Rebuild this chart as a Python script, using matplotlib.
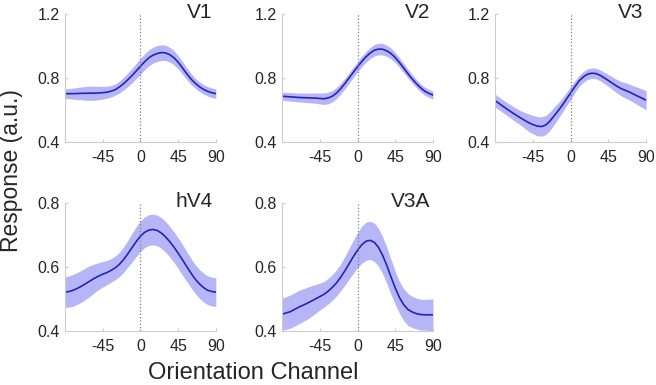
import numpy as np
import matplotlib
matplotlib.use('Agg')
import matplotlib.pyplot as plt

plt.rcParams['font.family'] = ['Liberation Sans', 'DejaVu Sans']

# orientation channels (deg)
channels = [-90, -85, -80, -75, -70, -65, -60, -55, -50, -45, -40, -35, -30,
            -25, -20, -15, -10, -5, 0, 5, 10, 15, 20, 25, 30, 35, 40, 45,
            50, 55, 60, 65, 70, 75, 80, 85, 90]

# mean response per area
v1_mean = [0.703, 0.703, 0.703, 0.704, 0.705, 0.705, 0.706, 0.706, 0.707, 0.709,
           0.712, 0.718, 0.728, 0.745, 0.766, 0.790, 0.816, 0.845, 0.874, 0.902,
           0.927, 0.944, 0.954, 0.960, 0.958, 0.947, 0.928, 0.900, 0.866, 0.830,
           0.797, 0.770, 0.748, 0.731, 0.718, 0.709, 0.703]
v2_mean = [0.687, 0.685, 0.683, 0.681, 0.679, 0.678, 0.677, 0.676, 0.675, 0.673,
           0.671, 0.676, 0.687, 0.707, 0.735, 0.767, 0.802, 0.837, 0.871, 0.904,
           0.933, 0.957, 0.975, 0.982, 0.981, 0.971, 0.954, 0.929, 0.898, 0.864,
           0.829, 0.797, 0.767, 0.741, 0.719, 0.705, 0.694]
v3_mean = [0.658, 0.640, 0.621, 0.603, 0.585, 0.568, 0.552, 0.536, 0.521, 0.509,
           0.500, 0.497, 0.506, 0.530, 0.563, 0.596, 0.631, 0.670, 0.708, 0.747,
           0.783, 0.808, 0.825, 0.831, 0.829, 0.818, 0.802, 0.785, 0.767, 0.750,
           0.735, 0.724, 0.713, 0.700, 0.687, 0.675, 0.662]
hv4_mean = [0.522, 0.524, 0.528, 0.534, 0.541, 0.549, 0.557, 0.565, 0.572, 0.578,
            0.583, 0.590, 0.598, 0.609, 0.624, 0.642, 0.661, 0.680, 0.697, 0.709,
            0.716, 0.718, 0.715, 0.707, 0.695, 0.680, 0.663, 0.644, 0.624, 0.603,
            0.583, 0.564, 0.549, 0.537, 0.528, 0.524, 0.522]
v3a_mean = [0.453, 0.457, 0.461, 0.468, 0.475, 0.481, 0.487, 0.494, 0.501, 0.508,
            0.515, 0.525, 0.537, 0.551, 0.569, 0.589, 0.611, 0.633, 0.653, 0.670,
            0.681, 0.684, 0.678, 0.662, 0.637, 0.605, 0.569, 0.535, 0.505, 0.483,
            0.468, 0.460, 0.455, 0.452, 0.451, 0.451, 0.451]

# error band half-widths
v1_err = [0.030, 0.032, 0.035, 0.038, 0.040, 0.043, 0.045, 0.044, 0.042, 0.040,
          0.038, 0.036, 0.035, 0.037, 0.040, 0.043, 0.045, 0.048, 0.050, 0.050,
          0.050, 0.050, 0.050, 0.049, 0.048, 0.046, 0.045, 0.042, 0.040, 0.037,
          0.035, 0.032, 0.030, 0.030, 0.030, 0.030, 0.030]
v2_err = [0.025, 0.026, 0.027, 0.027, 0.028, 0.029, 0.030, 0.031, 0.032, 0.034,
          0.036, 0.037, 0.036, 0.035, 0.034, 0.033, 0.032, 0.032, 0.032, 0.033,
          0.034, 0.035, 0.036, 0.036, 0.036, 0.035, 0.034, 0.032, 0.030, 0.029,
          0.028, 0.027, 0.026, 0.025, 0.025, 0.025, 0.025]
v3_err = [0.040, 0.040, 0.040, 0.041, 0.042, 0.043, 0.045, 0.050, 0.055, 0.058,
          0.060, 0.061, 0.060, 0.058, 0.055, 0.050, 0.045, 0.042, 0.040, 0.037,
          0.035, 0.034, 0.033, 0.033, 0.033, 0.034, 0.035, 0.037, 0.040, 0.042,
          0.045, 0.048, 0.050, 0.052, 0.055, 0.058, 0.060]
hv4_err = [0.048, 0.049, 0.050, 0.050, 0.050, 0.049, 0.048, 0.045, 0.042, 0.040,
           0.038, 0.037, 0.037, 0.038, 0.040, 0.042, 0.045, 0.047, 0.048, 0.048,
           0.048, 0.048, 0.048, 0.048, 0.048, 0.048, 0.048, 0.048, 0.048, 0.047,
           0.046, 0.045, 0.045, 0.045, 0.045, 0.045, 0.045]
v3a_err = [0.050, 0.051, 0.052, 0.052, 0.052, 0.051, 0.050, 0.048, 0.045, 0.042,
           0.040, 0.040, 0.040, 0.041, 0.042, 0.045, 0.048, 0.052, 0.055, 0.058,
           0.060, 0.060, 0.060, 0.059, 0.058, 0.057, 0.055, 0.052, 0.050, 0.050,
           0.050, 0.049, 0.048, 0.048, 0.048, 0.049, 0.050]

panels = [
    ('V1', v1_mean, v1_err, (0.4, 1.2), [0.4, 0.8, 1.2]),
    ('V2', v2_mean, v2_err, (0.4, 1.2), [0.4, 0.8, 1.2]),
    ('V3', v3_mean, v3_err, (0.4, 1.2), [0.4, 0.8, 1.2]),
    ('hV4', hv4_mean, hv4_err, (0.4, 0.8), [0.4, 0.6, 0.8]),
    ('V3A', v3a_mean, v3a_err, (0.4, 0.8), [0.4, 0.6, 0.8]),
]
xticks = [-45, 0, 45, 90]

# axes boxes in figure fraction [left, bottom, width, height]
lefts = [0.099, 0.430, 0.755]
bottoms = [0.631, 0.140]
w, h = 0.230, 0.332

line_col = '#2424b8'
fill_col = '#b6b6f6'
text_col = '#262626'
spine_col = '#cccccc'

fig = plt.figure(figsize=(6.56, 3.85), dpi=100)

for i, (name, mean, err, ylim, yticks) in enumerate(panels):
    row, col = divmod(i, 3)
    ax = fig.add_axes([lefts[col], bottoms[row], w, h])
    x = np.array(channels)
    m = np.array(mean)
    e = np.array(err)
    ax.fill_between(x, m - e, m + e, color=fill_col, linewidth=0)
    ax.plot(x, m, color=line_col, linewidth=1.2)
    ax.axvline(0, color='#808080', linestyle=':', linewidth=0.9)

    ax.set_xlim(-90, 90)
    ax.set_ylim(*ylim)
    ax.set_xticks(xticks)
    ax.set_xticklabels([str(t) for t in xticks])
    ax.set_yticks(yticks)
    ax.set_yticklabels([f'{t:.1f}' for t in yticks])

    for s in ['top', 'right']:
        ax.spines[s].set_visible(False)
    for s in ['left', 'bottom']:
        ax.spines[s].set_color(spine_col)
        ax.spines[s].set_linewidth(0.8)
    ax.tick_params(axis='both', direction='in', length=2, color=spine_col,
                   labelsize=11.5, labelcolor=text_col)
    ax.tick_params(axis='x', pad=6)
    ax.tick_params(axis='y', pad=4)

    ax.text(0.98, 0.97, name, transform=ax.transAxes, ha='right', va='baseline',
            fontsize=15, color=text_col)

fig.text(0.018, 0.556, 'Response (a.u.)', rotation=90, ha='center', va='center',
         fontsize=16.5, color=text_col)
fig.text(0.386, 0.031, 'Orientation Channel', ha='center', va='center',
         fontsize=17, color=text_col)

fig.savefig('out.png', dpi=100)
